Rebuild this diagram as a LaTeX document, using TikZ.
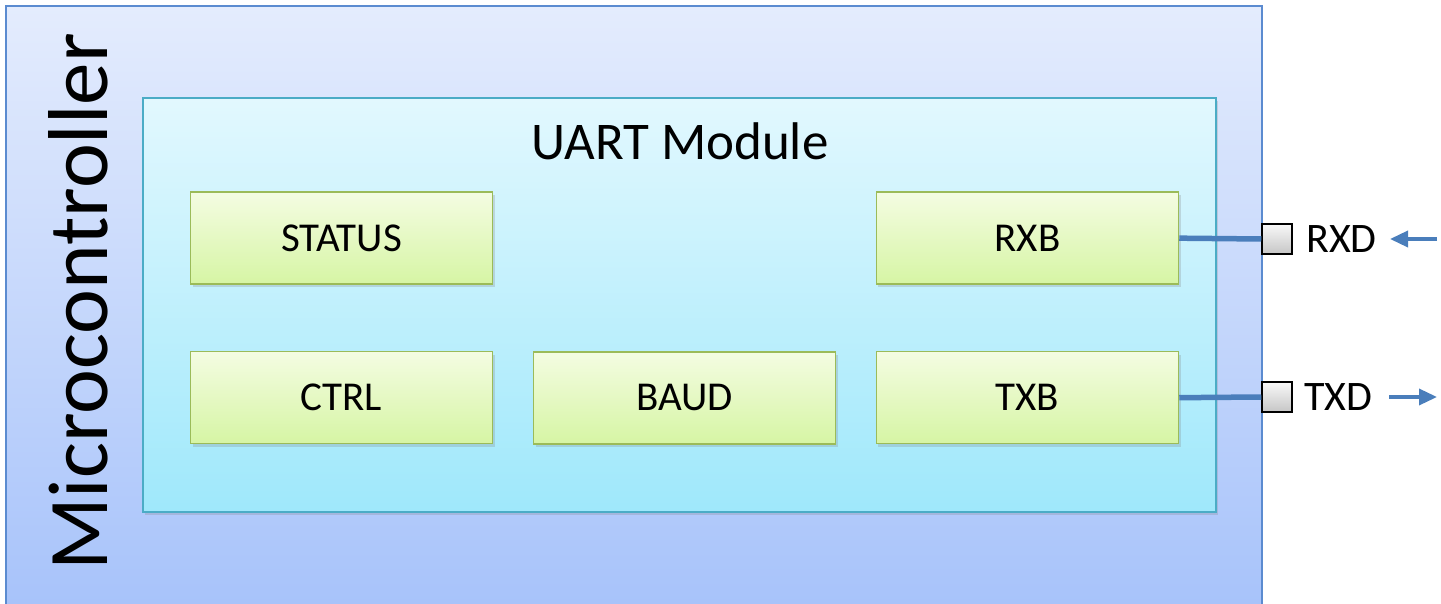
\documentclass[tikz,border=0pt]{standalone}
\usepackage{fontspec}
\setmainfont{Carlito}
\usepackage{tikz}
\usetikzlibrary{matrix,arrows.meta,shadows}

\definecolor{mcutop}{HTML}{E4ECFD}
\definecolor{mcubot}{HTML}{A6C2FA}
\definecolor{mculine}{HTML}{5B8BD0}
\definecolor{uarttop}{HTML}{E2F8FE}
\definecolor{uartbot}{HTML}{9FE8FB}
\definecolor{uartline}{HTML}{4BACC6}
\definecolor{regtop}{HTML}{F4FCE2}
\definecolor{regbot}{HTML}{D6F5A4}
\definecolor{regline}{HTML}{9BBB59}
\definecolor{wire}{HTML}{4A7EBB}

\begin{document}
\begin{tikzpicture}[x=1pt, y=1pt, ampersand replacement=\&,
    reg/.style={draw=regline, line width=1.5pt, top color=regtop, bottom color=regbot,
        minimum width=302pt, minimum height=92pt, inner sep=0pt,
        font=\fontsize{41}{48}\selectfont,
        drop shadow={opacity=0.25, shadow xshift=2pt, shadow yshift=-3pt}},
    pin/.style={draw=black, line width=1.5pt, top color=gray!5, bottom color=gray!45,
        minimum size=30pt, inner sep=0pt},
    pinlabel/.style={anchor=west, inner sep=0pt, font=\fontsize{42}{50}\selectfont},
    wireline/.style={draw=wire, line width=5.5pt},
    sig/.style={draw=wire, line width=3.5pt, -{Triangle[length=18pt, width=16pt]}}]
    \useasboundingbox (0,0) rectangle (1441,-604);
    \clip (0,0) rectangle (1441,-604);

    % outer and inner blocks
    \node[draw=mculine, line width=2pt, top color=mcutop, bottom color=mcubot,
        minimum width=1256pt, minimum height=614pt, inner sep=0pt] (mcu) at (634,-313) {};
    \node[draw=uartline, line width=1.5pt, top color=uarttop, bottom color=uartbot,
        minimum width=1073pt, minimum height=414pt, inner sep=0pt,
        drop shadow={opacity=0.25, shadow xshift=2pt, shadow yshift=-3pt}] (uart) at (679.5,-305) {};
    \node[rotate=90, anchor=base, inner sep=0pt, font=\fontsize{85}{100}\selectfont] (mcutext) at (107,-302) {Microcontroller};
    \node[anchor=base, inner sep=0pt, font=\fontsize{53}{62}\selectfont] (uarttext) at (680,-160) {UART Module};

    % registers
    \matrix (m) [matrix of nodes, nodes={reg},
    row sep=66pt, column sep=39.5pt] at (684.5,-318) {
    STATUS \&      \& RXB \\
    CTRL   \& BAUD \& TXB \\
    };

    % pins
    \node[pin] (rxpin) at (1277,-239) {};
    \node[pin] (txpin) at (1277,-397) {};
    \node[pinlabel] (rxlabel) at (1306,-239) {RXD};
    \node[pinlabel] (txlabel) at (1304,-397) {TXD};
    \coordinate (rxfrom) at (1437,-239);
    \coordinate (rxto) at (1390,-239);
    \coordinate (txfrom) at (1389,-397);
    \coordinate (txto) at (1437,-397);

    \draw[wireline] (m-1-3.east) -- (rxpin.west);
    \draw[wireline] (m-2-3.east) -- (txpin.west);
    \draw[sig] (rxfrom) -- (rxto);
    \draw[sig] (txfrom) -- (txto);
\end{tikzpicture}
\end{document}
